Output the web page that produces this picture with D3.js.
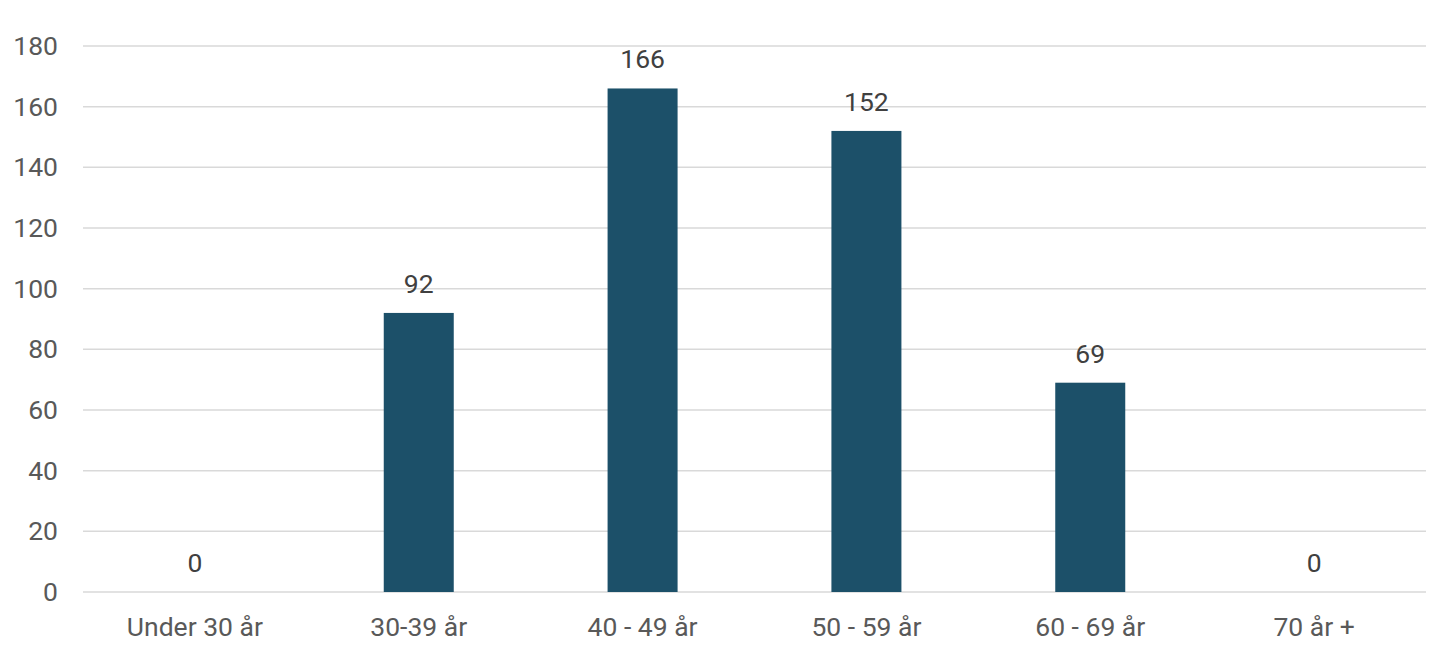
<!DOCTYPE html>
<html><head><meta charset="utf-8">
<script src="https://cdn.jsdelivr.net/npm/d3@7"></script>
<style>body{margin:0;background:#fff;}svg{display:block;font-family:Roboto,sans-serif;}</style>
</head><body>
<svg id="c" width="1443" height="657"></svg>
<script>
const categories = ["Under 30 år","30-39 år","40 - 49 år","50 - 59 år","60 - 69 år","70 år +"];
const values = [0,92,166,152,69,0];
const yTicks = [0,20,40,60,80,100,120,140,160,180];

const svg = d3.select("#c");
const L = 83, R = 1426, T = 46, B = 592;
const x = d3.scaleBand().domain(categories).range([L,R]).paddingInner(0).paddingOuter(0);
const y = d3.scaleLinear().domain([0,180]).range([B,T]);
const barW = 70;
const fs = 26.5;

svg.append("g").selectAll("line").data(yTicks).join("line")
  .attr("x1",L).attr("x2",R).attr("y1",d=>y(d)).attr("y2",d=>y(d))
  .attr("stroke","#d9d9d9").attr("stroke-width",1.5);

svg.append("g").selectAll("text").data(yTicks).join("text")
  .attr("x",58).attr("y",d=>y(d)+9).attr("text-anchor","end")
  .attr("fill","#595959").attr("font-size",fs).text(d=>d);

svg.append("g").selectAll("rect").data(values).join("rect")
  .attr("x",(d,i)=>x(categories[i])+x.bandwidth()/2-barW/2)
  .attr("width",barW)
  .attr("y",d=>y(d)).attr("height",d=>B-y(d))
  .attr("fill","#1c5069");

svg.append("g").selectAll("text").data(values).join("text")
  .attr("x",(d,i)=>x(categories[i])+x.bandwidth()/2)
  .attr("y",d=>y(d)-20).attr("text-anchor","middle")
  .attr("fill","#404040").attr("font-size",fs).text(d=>d);

svg.append("g").selectAll("text").data(categories).join("text")
  .attr("x",d=>x(d)+x.bandwidth()/2).attr("y",636).attr("text-anchor","middle")
  .attr("fill","#595959").attr("font-size",fs).text(d=>d);
</script>
</body></html>
